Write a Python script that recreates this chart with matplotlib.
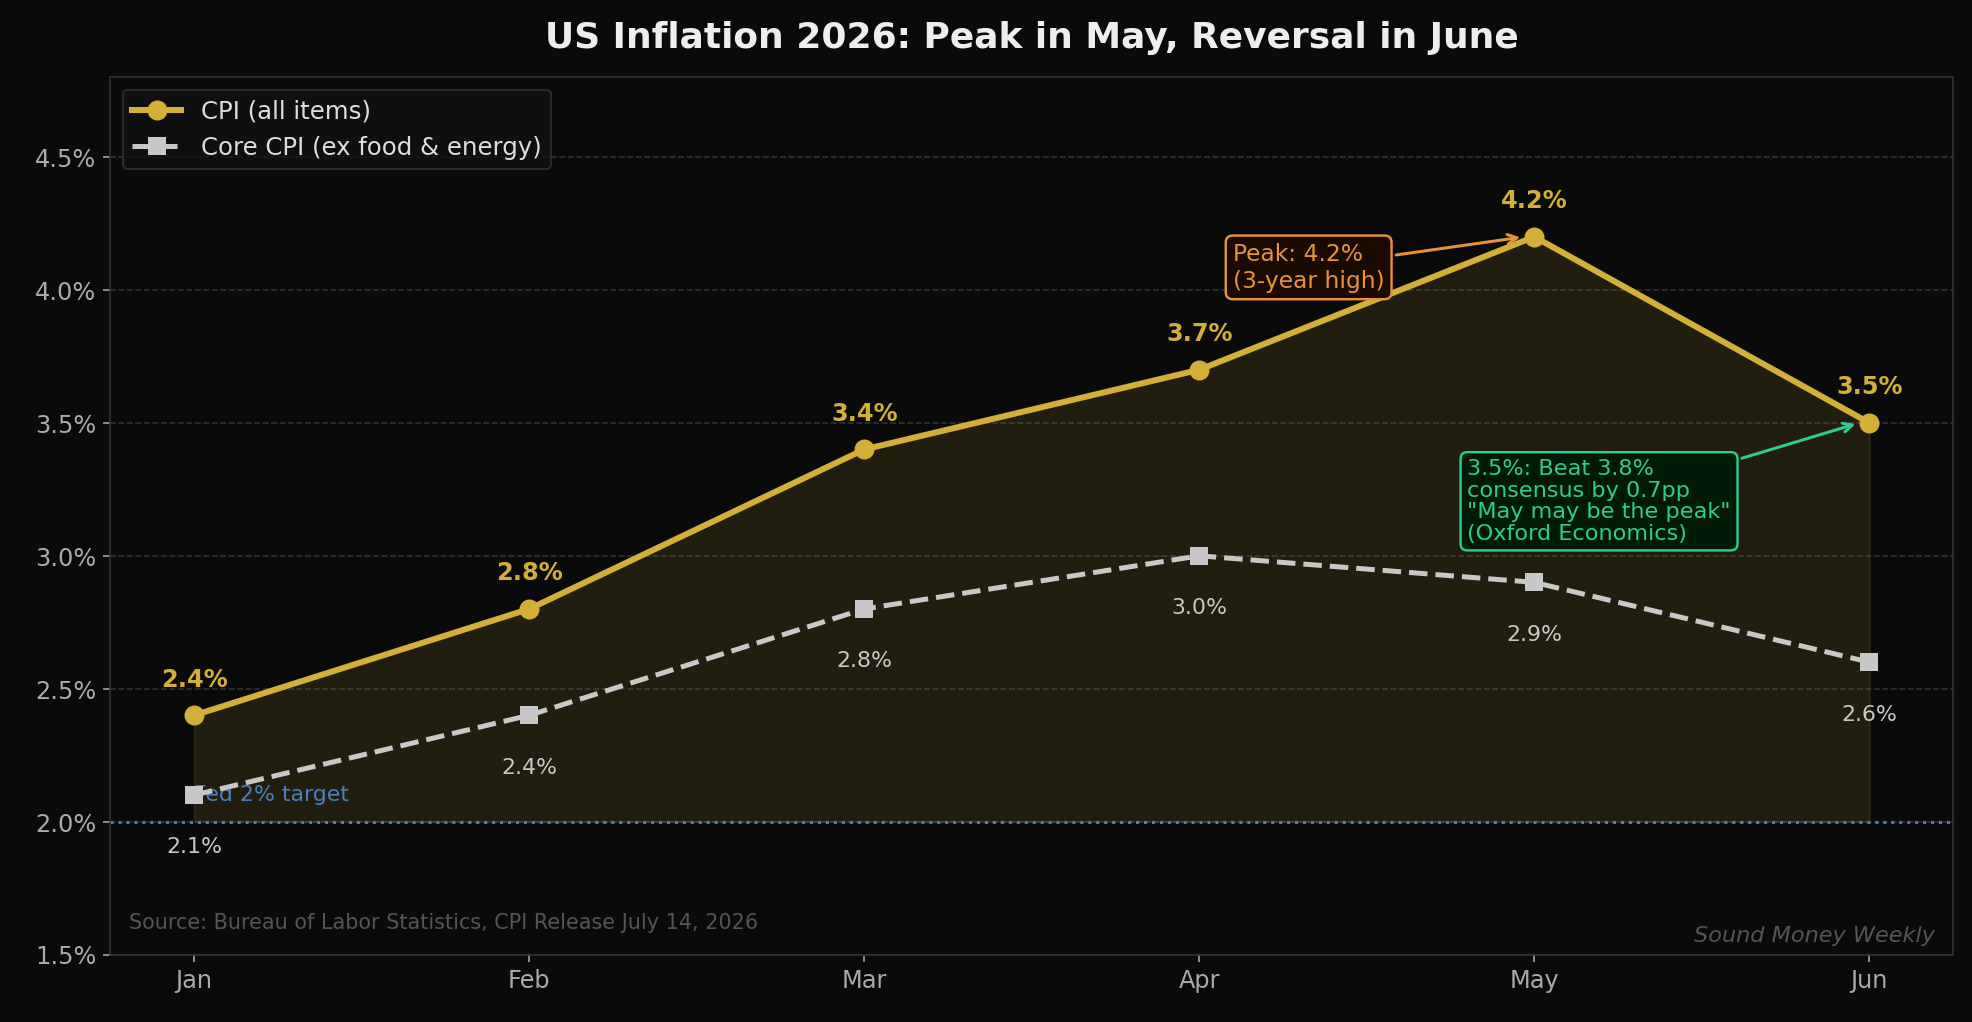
import matplotlib
matplotlib.use("Agg")
import matplotlib.pyplot as plt
import numpy as np

months = ["Jan", "Feb", "Mar", "Apr", "May", "Jun"]
cpi = [2.4, 2.8, 3.4, 3.7, 4.2, 3.5]
core = [2.1, 2.4, 2.8, 3.0, 2.9, 2.6]
fed_target = 2.0
yticks = [1.5, 2.0, 2.5, 3.0, 3.5, 4.0, 4.5]

BG = "#0a0a0a"
GOLD = "#d4af37"
GREY = "#c8c8c8"
BLUE = "#4a7fc1"
ORANGE = "#e8923a"
GREEN = "#2ecc8f"

x = np.arange(len(months))

fig, ax = plt.subplots(figsize=(13.7, 7.1), dpi=144)
fig.patch.set_facecolor(BG)
ax.set_facecolor(BG)

ax.fill_between(x, cpi, fed_target, color=GOLD, alpha=0.12, zorder=1)
ax.axhline(fed_target, color=BLUE, linestyle=":", linewidth=1.5, zorder=2)
ax.text(0, fed_target + 0.1, "Fed 2% target", color=BLUE, fontsize=11, va="center", ha="left", zorder=3)

ax.plot(x, cpi, color=GOLD, linewidth=3, marker="o", markersize=9, label="CPI (all items)", zorder=5)
ax.plot(x, core, color=GREY, linewidth=2.5, linestyle="--", marker="s", markersize=8,
        label="Core CPI (ex food & energy)", zorder=4)

for xi, v in zip(x, cpi):
    ax.annotate(f"{v:.1f}%", (xi, v), xytext=(0, 12), textcoords="offset points",
                ha="center", va="bottom", color=GOLD, fontsize=12, fontweight="bold")
for xi, v in zip(x, core):
    ax.annotate(f"{v:.1f}%", (xi, v), xytext=(0, -21), textcoords="offset points",
                ha="center", va="top", color=GREY, fontsize=11)

ax.annotate("Peak: 4.2%\n(3-year high)", xy=(3.97, 4.2), xytext=(3.1, 4.085),
            color=ORANGE, fontsize=11.7, ha="left", va="center",
            bbox=dict(boxstyle="round,pad=0.3", fc="#1a0a00", ec=ORANGE, lw=1.2),
            arrowprops=dict(arrowstyle="->", color=ORANGE, lw=1.5), zorder=6)

ax.annotate("3.5%: Beat 3.8%\nconsensus by 0.7pp\n\"May may be the peak\"\n(Oxford Economics)",
            xy=(4.97, 3.5), xytext=(3.8, 3.205),
            color=GREEN, fontsize=11.2, ha="left", va="center", linespacing=1.1,
            bbox=dict(boxstyle="round,pad=0.3", fc="#001a08", ec=GREEN, lw=1.2),
            arrowprops=dict(arrowstyle="->", color=GREEN, lw=1.5), zorder=6)

ax.set_xlim(-0.25, 5.25)
ax.set_ylim(1.5, 4.8)
ax.set_xticks(x)
ax.set_xticklabels(months)
ax.set_yticks(yticks)
ax.set_yticklabels([f"{t:.1f}%" for t in yticks])
ax.tick_params(colors="#aaaaaa", labelsize=12)
ax.grid(axis="y", color="#333333", linestyle="--", linewidth=0.8)
ax.set_axisbelow(True)
for s in ax.spines.values():
    s.set_color("#333333")

ax.set_title("US Inflation 2026: Peak in May, Reversal in June", color="#eeeeee",
             fontsize=18, fontweight="bold", pad=15)

leg = ax.legend(loc="upper left", facecolor="#111111", edgecolor="#333333", fontsize=12.2)
for t in leg.get_texts():
    t.set_color("#dddddd")

ax.text(0.01, 0.025, "Source: Bureau of Labor Statistics, CPI Release July 14, 2026",
        transform=ax.transAxes, color="#555555", fontsize=10.4, ha="left", va="bottom")
ax.text(0.99, 0.01, "Sound Money Weekly", transform=ax.transAxes, color="#555555",
        fontsize=11.2, style="italic", ha="right", va="bottom")

fig.subplots_adjust(left=0.056, right=0.99, top=0.924, bottom=0.066)
fig.savefig("out.png", dpi=144, facecolor=BG)
